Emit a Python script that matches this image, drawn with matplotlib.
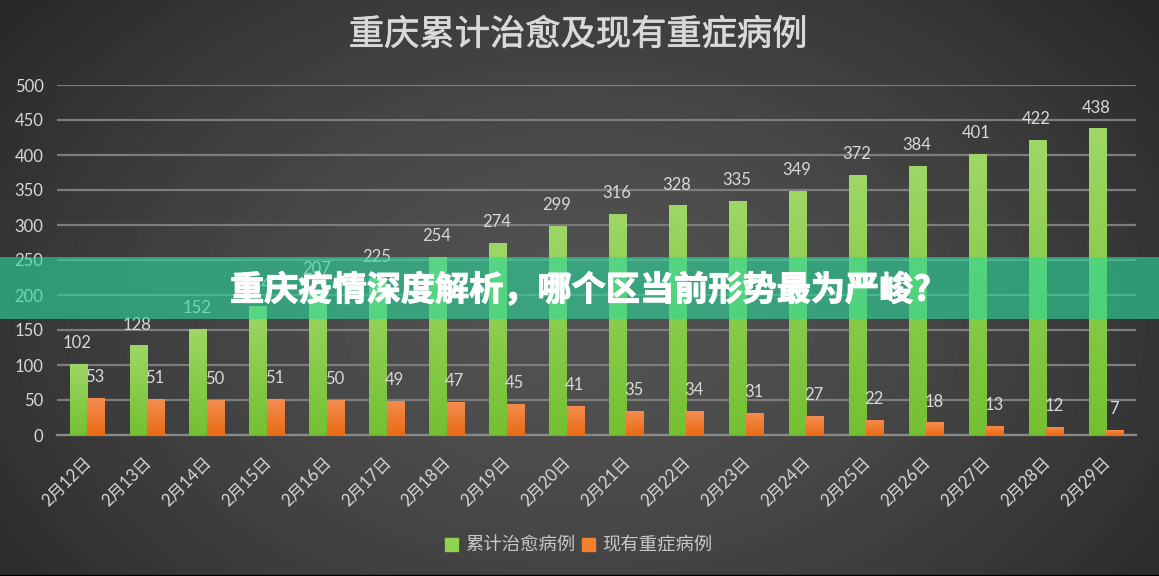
import numpy as np
import matplotlib
matplotlib.use("Agg")
import matplotlib.pyplot as plt
import matplotlib.patheffects as pe
from matplotlib.colors import LinearSegmentedColormap
from matplotlib.patches import Rectangle
from matplotlib.transforms import ScaledTranslation

plt.rcParams['font.family'] = ['Lato', 'Noto Sans CJK SC', 'DejaVu Sans']

categories = ['2月12日','2月13日','2月14日','2月15日','2月16日','2月17日','2月18日','2月19日','2月20日',
              '2月21日','2月22日','2月23日','2月24日','2月25日','2月26日','2月27日','2月28日','2月29日']
cured = [102,128,152,184,207,225,254,274,299,316,328,335,349,372,384,401,422,438]
severe = [53,51,50,51,50,49,47,45,41,35,34,31,27,22,18,13,12,7]
title = '重庆累计治愈及现有重症病例'
banner = '重庆疫情深度解析\uff0c哪个区当前形势最为严峻?'
series_names = ['累计治愈病例', '现有重症病例']
yticks = [0,50,100,150,200,250,300,350,400,450,500]

W, H = 1159, 576
fig = plt.figure(figsize=(W/100, H/100), dpi=100)
cjk = ['Noto Sans CJK SC', 'DejaVu Sans']

# background radial gradient
bg = fig.add_axes([0,0,1,1], zorder=-5)
bg.axis('off')
yy, xx = np.mgrid[0:H, 0:W]
r = np.sqrt(((xx-W*0.5)/(W*0.62))**2 + ((yy-H*0.55)/(H*0.85))**2)
shade = np.clip(0.32 - 0.16*np.clip(r, 0, 1)**1.6, 0, 1)
bg.imshow(shade, cmap='gray', vmin=0, vmax=1, aspect='auto', extent=[0,W,H,0])
bg.add_patch(Rectangle((0, H-1), W, 1, color='black'))
bg.set_xlim(0,W); bg.set_ylim(H,0)

# plot area
x0, x1, ytop, ybot = 57, 1136, 85, 435
ax = fig.add_axes([x0/W, 1-ybot/H, (x1-x0)/W, (ybot-ytop)/H])
ax.patch.set_alpha(0)
x = np.arange(len(categories))
bw = 0.29

ax.set_yticks(yticks)
ax.grid(axis='y', color='#7d7d7d', lw=1.6, zorder=1)
ax.set_axisbelow(True)
for s in ax.spines.values():
    s.set_visible(False)
ax.spines['bottom'].set_visible(True)
ax.spines['bottom'].set_color('#8a8a8a')
ax.spines['bottom'].set_linewidth(1.6)
ax.tick_params(axis='both', length=0)
ax.tick_params(axis='y', labelsize=12, labelcolor='#d9d9d9', pad=9.7)
ax.set_xticks(x)
ax.set_xticklabels(categories, rotation=45, ha='right', rotation_mode='anchor',
                   fontsize=12, color='#d9d9d9')
ax.tick_params(axis='x', pad=14)
shift = ScaledTranslation(-4/100, 0, fig.dpi_scale_trans)
for lab in ax.get_xticklabels():
    lab.set_transform(lab.get_transform() + shift)

green = LinearSegmentedColormap.from_list('g', ['#9ed766', '#74c032'])
orange = LinearSegmentedColormap.from_list('o', ['#f48d50', '#ea6b14'])
grad = np.linspace(0, 1, 256).reshape(-1, 1)

def gradient_bars(xs, vals, cmap):
    bars = ax.bar(xs, vals, width=bw, color='none', linewidth=0, zorder=2)
    for b in bars:
        im = ax.imshow(grad, cmap=cmap, aspect='auto', zorder=3,
                       extent=[b.get_x(), b.get_x()+b.get_width(), 0, b.get_height()])
        im.set_clip_path(b)
    return bars

gradient_bars(x-bw/2, cured, green)
gradient_bars(x+bw/2, severe, orange)
ax.set_xlim(-0.5, 17.5)
ax.set_ylim(0, 500)

for xi, v in zip(x-bw/2, cured):
    ax.annotate(str(v), (xi, v), xytext=(-0.7, 15), textcoords='offset points', ha='center', va='center',
                fontsize=12, color='#d9d9d9', zorder=4)
for xi, v in zip(x+bw/2, severe):
    ax.annotate(str(v), (xi, v), xytext=(-0.7, 15), textcoords='offset points', ha='center', va='center',
                fontsize=12, color='#d9d9d9', zorder=4)

# chart title
tt = fig.text(578/W, 1-35/H, title, ha='center', va='center', fontsize=25.4, color='#d9d9d9',
              fontweight='medium', family=cjk)
tt.set_path_effects([pe.withStroke(linewidth=0.5, foreground='#d9d9d9')])

# legend
fig.add_artist(Rectangle((445/W, 1-551/H), 13/W, 13/H, transform=fig.transFigure, color='#8fd24e'))
fig.add_artist(Rectangle((582/W, 1-551/H), 13/W, 13/H, transform=fig.transFigure, color='#f47f2c'))
fig.text(465/W, 1-545/H, series_names[0], ha='left', va='center', fontsize=13.2, color='#c8c8c8', family=cjk)
fig.text(602/W, 1-545/H, series_names[1], ha='left', va='center', fontsize=13.2, color='#c8c8c8', family=cjk)

# banner overlay
fig.add_artist(Rectangle((0, 1-319/H), 1, 62/H, transform=fig.transFigure,
                         facecolor='#2dd79b', alpha=0.61, linewidth=0, zorder=5))
t = fig.text(580/W, 1-290/H, banner, ha='center', va='center', fontsize=24.6, color='white',
             fontweight='bold', family=cjk, zorder=6)
t.set_path_effects([pe.Stroke(linewidth=0.8, foreground='white'), pe.Normal()])

fig.savefig('out.png', dpi=100)
